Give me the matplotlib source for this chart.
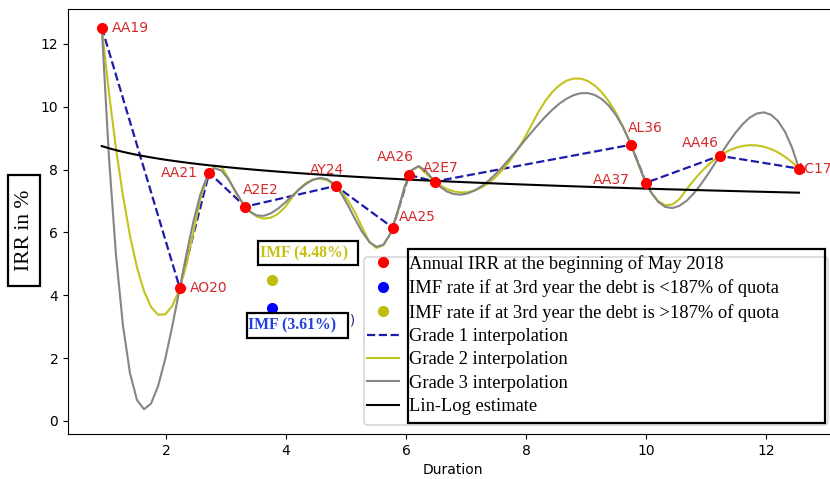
import numpy as np
import matplotlib
matplotlib.use("Agg")
import matplotlib.pyplot as plt
from matplotlib.patches import Rectangle, FancyBboxPatch
from matplotlib.lines import Line2D
from matplotlib.transforms import IdentityTransform

# Bond durations (years) and annual IRR (%) at the beginning of May 2018
bonds = ["AA19", "AO20", "AA21", "A2E2", "AY24", "AA25",
         "AA26", "A2E7", "AL36", "AA37", "AA46", "AC17"]
duration = [0.93, 2.23, 2.72, 3.32, 4.83, 5.78, 6.05, 6.48, 9.75, 10.00, 11.23, 12.55]
irr = [12.52, 4.23, 7.90, 6.82, 7.48, 6.15, 7.83, 7.62, 8.79, 7.58, 8.44, 8.03]

# IMF financing rates
imf_duration = 3.77
imf_low = 3.61
imf_high = 4.48

legend_labels = [
    "Annual IRR at the beginning of May 2018",
    "IMF rate if at 3rd year the debt is <187% of quota",
    "IMF rate if at 3rd year the debt is >187% of quota",
    "Grade 1 interpolation",
    "Grade 2 interpolation",
    "Grade 3 interpolation",
    "Lin-Log estimate",
]

# label offsets (points) and horizontal alignment for each bond name
label_offsets = [(7.2, 0), (7.2, 0), (-7.9, 0), (-1.4, 12.2), (-18.7, 11.5), (4.3, 7.9),
                 (-23, 13), (-8.6, 10), (-2.2, 12.2), (-11.5, 2.2), (-27.4, 9.4), (-2.2, 0)]
label_ha = ["left", "left", "right", "left", "left", "left",
            "left", "left", "left", "right", "left", "left"]


def bspline_basis(t, k, xv):
    """Cox-de Boor evaluation of all B-spline basis functions of degree k."""
    xv = np.asarray(xv, dtype=float)
    m = len(t) - 1
    B = np.zeros((len(xv), m))
    for i in range(m):
        B[:, i] = (t[i] <= xv) & (xv < t[i + 1])
    last = np.nonzero(t[:-1] < t[1:])[0].max()
    B[xv == t[-1], last] = 1.0
    for d in range(1, k + 1):
        Bn = np.zeros((len(xv), m - d))
        for i in range(m - d):
            term = np.zeros(len(xv))
            den1 = t[i + d] - t[i]
            if den1 > 0:
                term += (xv - t[i]) / den1 * B[:, i]
            den2 = t[i + d + 1] - t[i + 1]
            if den2 > 0:
                term += (t[i + d + 1] - xv) / den2 * B[:, i + 1]
            Bn[:, i] = term
        B = Bn
    return B


def interp_spline(x, y, k, xs):
    """Interpolating spline of degree k (same knot choice as scipy's make_interp_spline)."""
    x = np.asarray(x, dtype=float)
    y = np.asarray(y, dtype=float)
    if k == 1:
        return np.interp(xs, x, y)
    if k == 2:
        mid = (x[1:] + x[:-1]) / 2.0
        t = np.r_[[x[0]] * 3, mid[1:-1], [x[-1]] * 3]
    else:
        t = np.r_[[x[0]] * 4, x[2:-2], [x[-1]] * 4]
    coef = np.linalg.solve(bspline_basis(t, k, x), y)
    return bspline_basis(t, k, xs) @ coef


W, H = 830, 479
fig = plt.figure(figsize=(W / 100, H / 100), dpi=100)
ax = fig.add_axes([68 / W, 1 - 434 / H, (838 - 68) / W, (434 - 9) / H])

xs = np.linspace(duration[0], duration[-1], 100)
grade2 = interp_spline(duration, irr, 2, xs)
grade3 = interp_spline(duration, irr, 3, xs)
b, a = np.polyfit(np.log(duration), irr, 1)
linlog = a + b * np.log(xs)

dash_color = "#1c1ca8"
olive = "#c2c41c"
gray = "#858585"
ax.plot(duration, irr, "--", color=dash_color, lw=1.6, zorder=2)
ax.plot(xs, grade2, color=olive, lw=1.5, zorder=2)
ax.plot(xs, grade3, color=gray, lw=1.5, zorder=2)
ax.plot(xs, linlog, color="black", lw=1.5, zorder=2)
ax.plot(duration, irr, "o", color="red", ms=7, zorder=4)
ax.plot([imf_duration], [imf_low], "o", color="blue", ms=7, zorder=4)
ax.plot([imf_duration], [imf_high], "o", color="#bdbd0c", ms=7, zorder=4)

for name, x, y, off, ha in zip(bonds, duration, irr, label_offsets, label_ha):
    ax.annotate(name, (x, y), xytext=off, textcoords="offset points",
                ha=ha, va="center", color="#d42a2a", fontsize=10, zorder=3)

ax.annotate("IMF (3.61%)", (imf_duration, imf_low), xytext=(0, -9),
            textcoords="offset points", ha="left", va="center",
            color="#2a2a80", fontsize=10, zorder=3)

ax.set_xlim(0.367, 13.2)
ax.set_ylim(-0.414, 13.11)
ax.set_xlabel("Duration", fontsize=10)

ident = IdentityTransform()

# legend frame
frame = FancyBboxPatch((364, H - 425), 464, 168, boxstyle="round,pad=0,rounding_size=4",
                       transform=ident, fc="white", ec="#cccccc", lw=1, alpha=0.9, zorder=3)
fig.add_artist(frame)

handles = [
    Line2D([], [], ls="none", marker="o", color="red", ms=7),
    Line2D([], [], ls="none", marker="o", color="blue", ms=7),
    Line2D([], [], ls="none", marker="o", color="#bdbd0c", ms=7),
    Line2D([], [], ls="--", color=dash_color, lw=1.6),
    Line2D([], [], color=olive, lw=1.5),
    Line2D([], [], color=gray, lw=1.5),
    Line2D([], [], color="black", lw=1.5),
]
leg = fig.legend(handles, legend_labels, loc="upper left",
                 bbox_to_anchor=(367 / W, 1 - 255 / H), bbox_transform=fig.transFigure,
                 prop={"family": "Liberation Serif", "size": 13.3},
                 handlelength=1.75, handletextpad=0.5, labelspacing=0.35,
                 borderpad=0, borderaxespad=0, frameon=False)
leg.set_zorder(5)

fig.add_artist(Rectangle((408, H - 423), 417, 174, transform=ident,
                         fill=False, ec="black", lw=1.6, zorder=6))

# IMF rate boxes
fig.add_artist(Rectangle((258, H - 265), 100, 24, transform=ident,
                         fc="white", ec="black", lw=1.6, zorder=6))
fig.text(260, H - 253, "IMF (4.48%)", transform=ident, ha="left", va="center",
         family="Liberation Serif", weight="bold", fontsize=11.3, color="#c8bf10", zorder=7)
fig.add_artist(Rectangle((247, H - 338), 101, 25, transform=ident,
                         fc="white", ec="black", lw=1.6, zorder=6))
fig.text(248, H - 325, "IMF (3.61%)", transform=ident, ha="left", va="center",
         family="Liberation Serif", weight="bold", fontsize=11.3, color="#1f3fe0", zorder=7)

# y-axis title box
fig.add_artist(Rectangle((7.5, H - 286), 32.5, 111, transform=ident,
                         fc="white", ec="black", lw=1.6, zorder=6))
fig.text(24.5, H - 230, "IRR in %", transform=ident, ha="center", va="center",
         rotation=90, family="Liberation Serif", fontsize=15.5, zorder=7)

fig.savefig("out.png", dpi=100)
